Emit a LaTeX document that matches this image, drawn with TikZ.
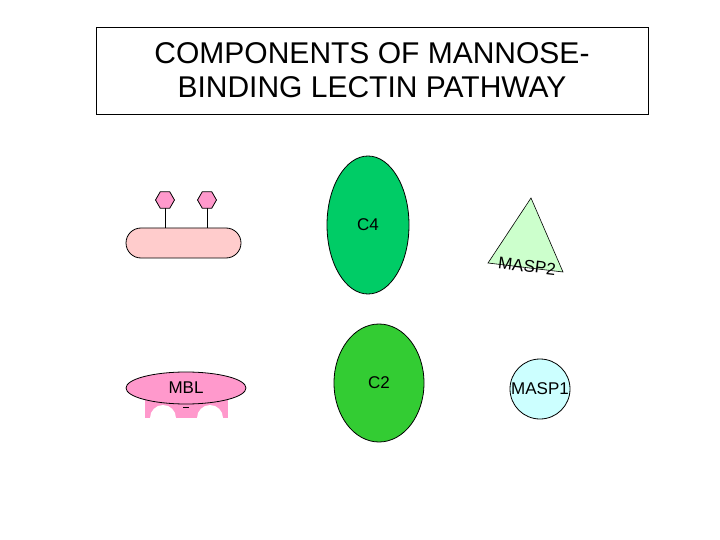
\documentclass[tikz,border=0pt]{standalone}
\usepackage{fontspec}
\setmainfont{Liberation Sans}
\usetikzlibrary{shapes.geometric}
\definecolor{bactpink}{RGB}{255,204,204}
\definecolor{hotpink}{RGB}{255,153,204}
\definecolor{cfour}{RGB}{0,204,102}
\definecolor{ctwo}{RGB}{51,204,51}
\definecolor{mtwo}{RGB}{204,255,204}
\definecolor{mone}{RGB}{204,255,255}
\begin{document}
\begin{tikzpicture}[x=1pt,y=-1pt,
  outl/.style={draw=black,line width=0.8pt},
  lbl/.style={font=\fontsize{17}{19}\selectfont}]
\useasboundingbox (0,0) rectangle (720,540);
\node[draw,line width=0.6pt,minimum width=552pt,minimum height=87pt,align=center,font=\fontsize{30}{34}\selectfont] (title) at (372,70.5) {COMPONENTS OF MANNOSE-\\BINDING LECTIN PATHWAY};
% bacterium
\node[outl,fill=bactpink,rounded corners=15pt,minimum width=115pt,minimum height=30pt] (bact) at (183.5,243) {};
\foreach \x/\n in {165/ha,207/hb}{
  \draw[line width=0.8pt] (\x,228) -- (\x,208);
  \node[outl,fill=hotpink,regular polygon,regular polygon sides=6,minimum size=19pt,inner sep=0pt] (\n) at (\x,200) {};
}
% C4
\node[outl,ellipse,fill=cfour,minimum width=82pt,minimum height=138pt] (c4) at (368,225) {};
\node[lbl] at (368,225) {C4};
% C2
\node[outl,ellipse,fill=ctwo,minimum width=90pt,minimum height=118pt] (c2) at (379,383) {};
\node[lbl] at (379,383) {C2};
% MASP2
\draw[line width=0.6pt,fill=mtwo] (531,198) -- (563,272) -- (488,263) -- cycle;
\node[lbl,rotate=-7] (m2) at (527,266) {MASP2};
% MASP1
\node[outl,circle,fill=mone,minimum size=60pt] (m1) at (540,389) {};
\node[lbl] at (540,389) {MASP1};
% MBL
\fill[hotpink] (145,400) rectangle (228,418);
\fill[white] (150,418) arc[start angle=180,end angle=360,radius=13] -- cycle;
\fill[white] (197,418) arc[start angle=180,end angle=360,radius=13] -- cycle;
\draw[line width=1pt] (183,407) -- (189,407);
\node[outl,ellipse,fill=hotpink,minimum width=120pt,minimum height=32pt,inner sep=0pt] (mbl) at (186,388) {};
\node[lbl] at (186,388) {MBL};
\end{tikzpicture}
\end{document}
